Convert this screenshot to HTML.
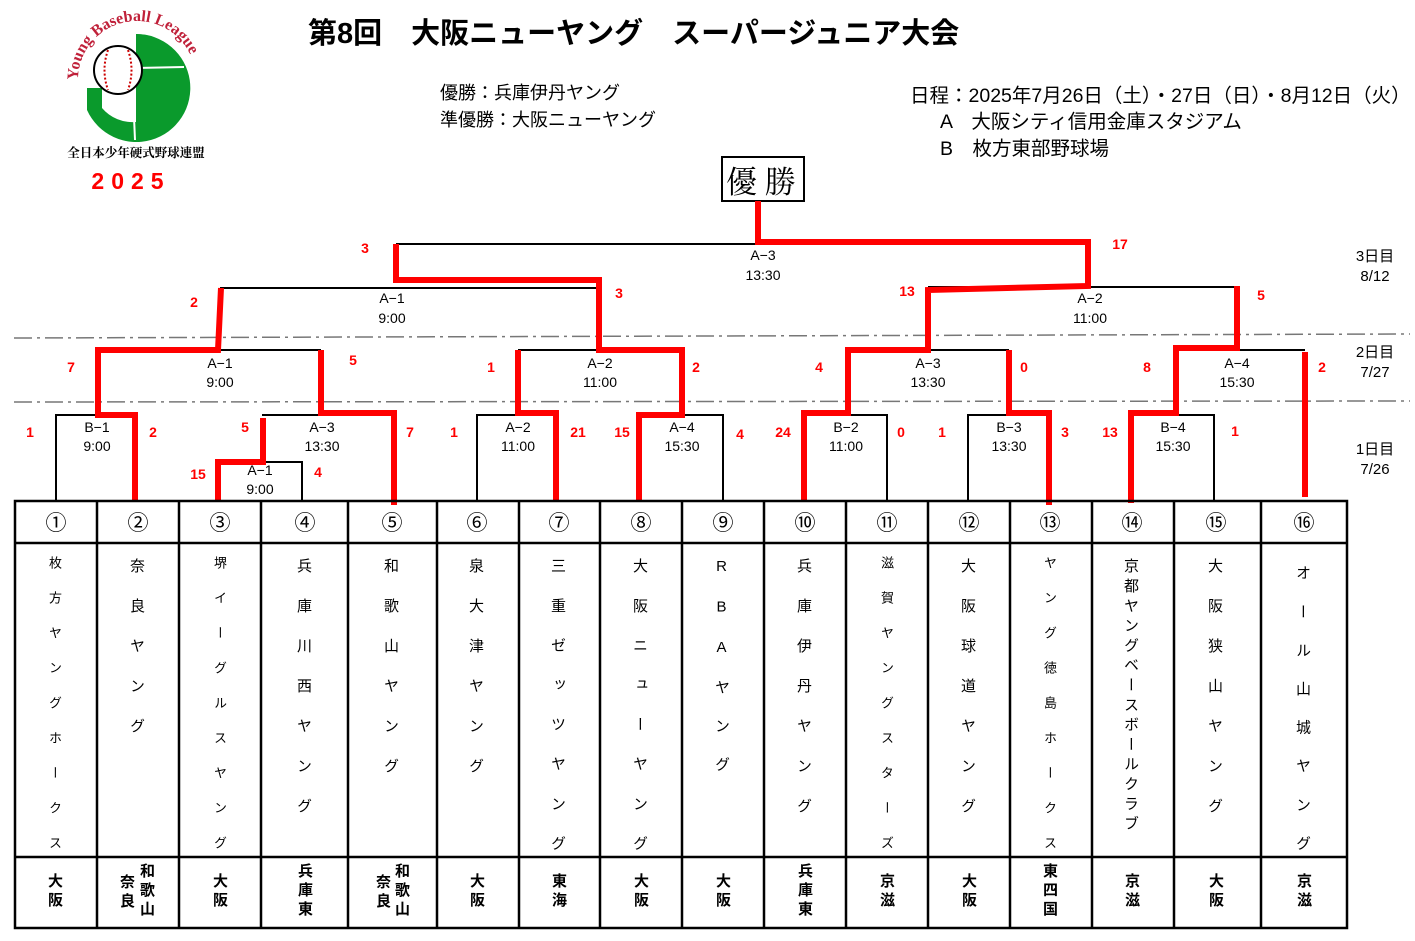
<!DOCTYPE html>
<html><head><meta charset="utf-8"><style>
body{margin:0;width:1415px;height:941px;background:#fff;position:relative;overflow:hidden;font-family:"Liberation Sans","Noto Sans CJK JP",sans-serif;}
.a{position:absolute;white-space:nowrap;}
.v{position:absolute;writing-mode:vertical-rl;text-orientation:upright;text-align:start;font-size:15px;}
.r{position:absolute;white-space:nowrap;text-align:center;font-size:15px;font-weight:bold;line-height:19px;}
</style></head><body>
<svg class="a" style="left:0;top:0" width="1415" height="941">
<defs><path id="arc" d="M78,80 A58,58 0 0 1 196,80"/></defs>
<path d="M136,34 A54,54 0 1 1 87,110 L87,88 L102,88 L102,108 A40,40 0 0 0 136,122 Z" fill="#0a9a2c"/>
<path d="M136,34 A54,54 0 0 1 184,65 L136,68 Z" fill="#0a9a2c"/>
<line x1="136" y1="68" x2="184" y2="67" stroke="#fff" stroke-width="2"/>
<polyline points="104,106 134,117 135,140" fill="none" stroke="#fff" stroke-width="2"/>
<circle cx="118" cy="70" r="24" fill="#fff" stroke="#000" stroke-width="2"/>
<path d="M108,50 Q101,70 108,90 M128,50 Q135,70 128,90" fill="none" stroke="#c00" stroke-width="2" stroke-dasharray="2 2"/>
<text font-family="Liberation Serif,serif" font-size="16" font-weight="bold" fill="#c0213a"><textPath href="#arc">Young Baseball League</textPath></text>
<text x="136" y="157" text-anchor="middle" font-family="Liberation Serif,'Noto Serif CJK SC',serif" font-size="12.5" font-weight="bold">全日本少年硬式野球連盟</text>
<text x="131" y="189" text-anchor="middle" font-size="23" font-weight="bold" fill="#f00" letter-spacing="7">2025</text>
<g stroke="#777" stroke-width="1.5" stroke-dasharray="18 5 3 5">
<line x1="14" y1="338" x2="1410" y2="334"/><line x1="14" y1="402" x2="1410" y2="401"/></g>
<g fill="none" stroke="#000" stroke-width="2">
<rect x="722" y="157" width="82" height="44"/>
<polyline points="396,244 1088,244"/>
<polyline points="220,288 599,288"/>
<polyline points="928,287 1237,287"/>
<polyline points="98,350 321,350"/><polyline points="518,350 682,350"/>
<polyline points="848,350 1009,350"/><polyline points="1176,350 1305,350"/>
<polyline points="56,501 56,415 135,415"/><polyline points="262,415 394,415"/>
<polyline points="219,462 302,462 302,501"/>
<polyline points="477,501 477,415 556,415"/><polyline points="639,415 723,415 723,501"/>
<polyline points="804,415 887,415 887,501"/><polyline points="968,501 968,415 1049,415"/>
<polyline points="1131,415 1214,415 1214,501"/>
</g>
<g fill="none" stroke="#f00" stroke-width="6" stroke-linejoin="miter">
<polyline points="135,501 135,415 98,415 98,350 218,350 221,288"/>
<polyline points="218,501 218,462 263,462 263,418"/>
<polyline points="394,505 394,413 321,413 321,350"/>
<polyline points="556,501 556,413 518,413 518,350"/>
<polyline points="639,501 639,415 682,415 682,350 599,350 599,280 396,280 396,244"/>
<polyline points="758,201 758,242 1088,242 1088,286 928,290 928,350 848,350 848,413 804,413 804,501"/>
<polyline points="1049,505 1049,413 1009,413 1009,350"/>
<polyline points="1131,503 1131,413 1176,413 1176,348 1237,348 1237,286"/>
<polyline points="1305,497 1305,352"/>
</g>
<g fill="none" stroke="#000" stroke-width="2.5">
<rect x="15" y="501" width="1332" height="427"/>
<line x1="15" y1="543" x2="1347" y2="543"/><line x1="15" y1="857" x2="1347" y2="857"/>
<path d="M97,501V928M179,501V928M261,501V928M348,501V928M437,501V928M519,501V928M600,501V928M682,501V928M764,501V928M846,501V928M928,501V928M1010,501V928M1092,501V928M1174,501V928M1261,501V928"/>
</g>
<g font-size="21" text-anchor="middle">
<text x="56" y="530">①</text><text x="138" y="530">②</text><text x="220" y="530">③</text><text x="305" y="530">④</text><text x="392" y="530">⑤</text><text x="477" y="530">⑥</text><text x="559" y="530">⑦</text><text x="641" y="530">⑧</text><text x="723" y="530">⑨</text><text x="805" y="530">⑩</text><text x="887" y="530">⑪</text><text x="969" y="530">⑫</text><text x="1050" y="530">⑬</text><text x="1132" y="530">⑭</text><text x="1216" y="530">⑮</text><text x="1304" y="530">⑯</text>
</g>
<g font-size="14" text-anchor="middle">
<text x="763" y="260">A−3</text><text x="763" y="280">13:30</text>
<text x="392" y="303">A−1</text><text x="392" y="323">9:00</text>
<text x="1090" y="303">A−2</text><text x="1090" y="323">11:00</text>
<text x="220" y="368">A−1</text><text x="220" y="387">9:00</text>
<text x="600" y="368">A−2</text><text x="600" y="387">11:00</text>
<text x="928" y="368">A−3</text><text x="928" y="387">13:30</text>
<text x="1237" y="368">A−4</text><text x="1237" y="387">15:30</text>
<text x="97" y="432">B−1</text><text x="97" y="451">9:00</text>
<text x="322" y="432">A−3</text><text x="322" y="451">13:30</text>
<text x="260" y="475">A−1</text><text x="260" y="494">9:00</text>
<text x="518" y="432">A−2</text><text x="518" y="451">11:00</text>
<text x="682" y="432">A−4</text><text x="682" y="451">15:30</text>
<text x="846" y="432">B−2</text><text x="846" y="451">11:00</text>
<text x="1009" y="432">B−3</text><text x="1009" y="451">13:30</text>
<text x="1173" y="432">B−4</text><text x="1173" y="451">15:30</text>
<text x="1375" y="261" font-size="15">3日目</text><text x="1375" y="281" font-size="15">8/12</text>
<text x="1375" y="357" font-size="15">2日目</text><text x="1375" y="377" font-size="15">7/27</text>
<text x="1375" y="454" font-size="15">1日目</text><text x="1375" y="474" font-size="15">7/26</text>
</g>
<g font-size="14" font-weight="bold" fill="#f00" text-anchor="middle">
<text x="365" y="253">3</text><text x="1120" y="249">17</text>
<text x="194" y="307">2</text><text x="619" y="298">3</text><text x="907" y="296">13</text><text x="1261" y="300">5</text>
<text x="71" y="372">7</text><text x="353" y="365">5</text><text x="491" y="372">1</text><text x="696" y="372">2</text>
<text x="819" y="372">4</text><text x="1024" y="372">0</text><text x="1147" y="372">8</text><text x="1322" y="372">2</text>
<text x="30" y="437">1</text><text x="153" y="437">2</text><text x="245" y="432">5</text><text x="410" y="437">7</text>
<text x="198" y="479">15</text><text x="318" y="477">4</text>
<text x="454" y="437">1</text><text x="578" y="437">21</text><text x="622" y="437">15</text><text x="740" y="439">4</text>
<text x="783" y="437">24</text><text x="901" y="437">0</text><text x="942" y="437">1</text><text x="1065" y="437">3</text>
<text x="1110" y="437">13</text><text x="1235" y="436">1</text>
</g>
</svg>
<div class="a" style="left:308px;top:10px;font-size:29px;font-weight:bold;">第8回　大阪ニューヤング　スーパージュニア大会</div>
<div class="a" style="left:726px;top:157px;font-size:31px;font-family:'Liberation Serif','Noto Serif CJK SC',serif;">優 勝</div>
<div class="a" style="left:440px;top:79px;font-size:18px;">優勝：兵庫伊丹ヤング</div>
<div class="a" style="left:440px;top:106px;font-size:18px;">準優勝：大阪ニューヤング</div>
<div class="a" style="left:910px;top:79px;font-size:19.5px;">日程：2025年7月26日（土）・27日（日）・8月12日（火）</div>
<div class="a" style="left:940px;top:105px;font-size:19.5px;">A　大阪シティ信用金庫スタジアム</div>
<div class="a" style="left:940px;top:132px;font-size:19.5px;">B　枚方東部野球場</div>
<div class="v" style="left:45px;top:556px;font-size:13px;letter-spacing:22px">枚方ヤングホークス</div>
<div class="v" style="left:126px;top:558px;letter-spacing:25px">奈良ヤング</div>
<div class="v" style="left:210px;top:556px;font-size:13px;letter-spacing:22px">堺イーグルスヤング</div>
<div class="v" style="left:293px;top:558px;letter-spacing:25px">兵庫川西ヤング</div>
<div class="v" style="left:380px;top:558px;letter-spacing:25px">和歌山ヤング</div>
<div class="v" style="left:465px;top:558px;letter-spacing:25px">泉大津ヤング</div>
<div class="v" style="left:547px;top:558px;letter-spacing:24.6px">三重ゼッツヤング</div>
<div class="v" style="left:629px;top:558px;letter-spacing:24.6px">大阪ニューヤング</div>
<div class="v" style="left:711px;top:558px;letter-spacing:23.5px">RBAヤング</div>
<div class="v" style="left:793px;top:558px;letter-spacing:25px">兵庫伊丹ヤング</div>
<div class="v" style="left:877px;top:556px;font-size:13px;letter-spacing:22px">滋賀ヤングスターズ</div>
<div class="v" style="left:957px;top:558px;letter-spacing:25px">大阪球道ヤング</div>
<div class="v" style="left:1040px;top:556px;font-size:13px;letter-spacing:22px">ヤング徳島ホークス</div>
<div class="v" style="left:1120px;top:558px;letter-spacing:4.8px">京都ヤングベースボールクラブ</div>
<div class="v" style="left:1204px;top:558px;letter-spacing:25px">大阪狭山ヤング</div>
<div class="v" style="left:1292px;top:565px;letter-spacing:23.6px">オール山城ヤング</div>
<div class="r" style="left:48px;top:872px">大<br>阪</div>
<div class="r" style="left:120px;top:873px">奈<br>良</div><div class="r" style="left:140px;top:862px">和<br>歌<br>山</div>
<div class="r" style="left:213px;top:872px">大<br>阪</div>
<div class="r" style="left:298px;top:862px">兵<br>庫<br>東</div>
<div class="r" style="left:376px;top:873px">奈<br>良</div><div class="r" style="left:395px;top:862px">和<br>歌<br>山</div>
<div class="r" style="left:470px;top:872px">大<br>阪</div>
<div class="r" style="left:552px;top:872px">東<br>海</div>
<div class="r" style="left:634px;top:872px">大<br>阪</div>
<div class="r" style="left:716px;top:872px">大<br>阪</div>
<div class="r" style="left:798px;top:862px">兵<br>庫<br>東</div>
<div class="r" style="left:880px;top:872px">京<br>滋</div>
<div class="r" style="left:962px;top:872px">大<br>阪</div>
<div class="r" style="left:1043px;top:862px">東<br>四<br>国</div>
<div class="r" style="left:1125px;top:872px">京<br>滋</div>
<div class="r" style="left:1209px;top:872px">大<br>阪</div>
<div class="r" style="left:1297px;top:872px">京<br>滋</div>
</body></html>
